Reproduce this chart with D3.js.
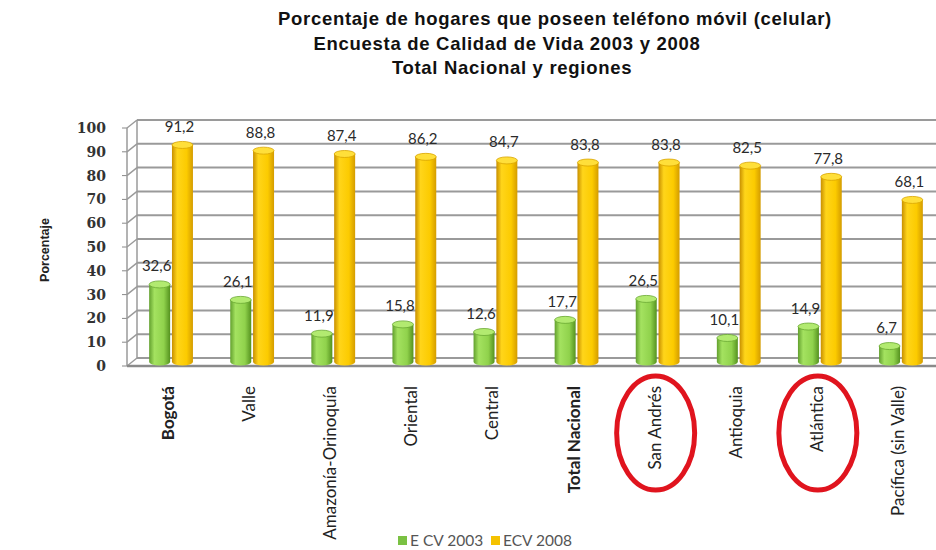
<!DOCTYPE html>
<html>
<head>
<meta charset="utf-8">
<script src="https://cdn.jsdelivr.net/npm/d3@7"></script>
<style>
	body { margin: 0; background: #fff; }
	svg { display: block; }
</style>
</head>
<body>
<svg id="chart" width="936" height="550"></svg>
<script>
const CATEGORIES = [
	'Bogotá',
	'Valle',
	'Amazonía-Orinoquía',
	'Oriental',
	'Central',
	'Total Nacional',
	'San Andrés',
	'Antioquia',
	'Atlántica',
	'Pacífica (sin Valle)'
];
const BOLD_CATS = ['Bogotá', 'Total Nacional'];
const CIRCLED = ['San Andrés', 'Atlántica'];
const SERIES = ['E CV 2003', 'ECV 2008'];
const ECV_2003 = [32.6, 26.1, 11.9, 15.8, 12.6, 17.7, 26.5, 10.1, 14.9, 6.7];
const ECV_2008 = [91.2, 88.8, 87.4, 86.2, 84.7, 83.8, 83.8, 82.5, 77.8, 68.1];
const Y_TICKS = [0, 10, 20, 30, 40, 50, 60, 70, 80, 90, 100];
const TITLE = [
	'Porcentaje de hogares que poseen teléfono móvil (celular)',
	'Encuesta de Calidad de Vida 2003 y 2008',
	'Total Nacional y regiones'
];

const W = 936;
const AXIS_X = 127;
const DEPTH = { dx: 10, dy: -8 };

const $svg = d3.select('#chart');

const y = d3.scaleLinear().domain([0, 100]).range([366, 128]);
const x = d3
	.scaleBand()
	.domain(CATEGORIES)
	.range([130.5, 941.5])
	.paddingInner(0.46)
	.paddingOuter(0.23);
const xs = d3
	.scaleBand()
	.domain(SERIES)
	.range([0, x.bandwidth()])
	.paddingInner(0.08);

// gradients for the cylinders
const $defs = $svg.append('defs');
const grads = [
	{ id: 'g2003', stops: ['#62a02e', '#a4e260', '#90d24c', '#55921f'] },
	{ id: 'g2008', stops: ['#c88f00', '#ffd51a', '#fccb00', '#d49c00'] }
];
grads.forEach(g => {
	const $g = $defs
		.append('linearGradient')
		.attr('id', g.id)
		.attr('x1', 0)
		.attr('x2', 1)
		.attr('y1', 0)
		.attr('y2', 0);
	[0, 0.25, 0.7, 1].forEach((o, i) => {
		$g.append('stop').attr('offset', o).attr('stop-color', g.stops[i]);
	});
});
const CAP = ['#b2ea70', '#ffdf3a'];
const LEGEND_COL = ['#7ac143', '#f5c200'];

// title
TITLE.forEach((t, i) => {
	$svg
		.append('text')
		.attr('x', [555, 507, 512][i])
		.attr('y', 25 + i * 24.5)
		.attr('text-anchor', 'middle')
		.attr('font-family', 'Liberation Sans, Arial, sans-serif')
		.attr('font-weight', 'bold')
		.attr('font-size', 18.5)
		.attr('letter-spacing', 0.7)
		.attr('fill', '#111')
		.text(t);
});

// back wall gridlines + left wall slants
const $grid = $svg.append('g');
Y_TICKS.forEach(v => {
	$grid
		.append('line')
		.attr('x1', AXIS_X + DEPTH.dx)
		.attr('x2', W)
		.attr('y1', y(v) + DEPTH.dy)
		.attr('y2', y(v) + DEPTH.dy)
		.attr('stroke', '#9a9a9a')
		.attr('stroke-width', 2);
	$grid
		.append('line')
		.attr('x1', AXIS_X)
		.attr('y1', y(v))
		.attr('x2', AXIS_X + DEPTH.dx)
		.attr('y2', y(v) + DEPTH.dy)
		.attr('stroke', '#9a9a9a')
		.attr('stroke-width', 1.5);
	$grid
		.append('line')
		.attr('x1', AXIS_X - 5)
		.attr('x2', AXIS_X)
		.attr('y1', y(v))
		.attr('y2', y(v))
		.attr('stroke', '#888')
		.attr('stroke-width', 1);
});
$grid
	.append('line')
	.attr('x1', AXIS_X)
	.attr('x2', AXIS_X)
	.attr('y1', y(0))
	.attr('y2', y(100))
	.attr('stroke', '#9a9a9a')
	.attr('stroke-width', 1.5);
$grid
	.append('line')
	.attr('x1', AXIS_X + DEPTH.dx)
	.attr('x2', AXIS_X + DEPTH.dx)
	.attr('y1', y(0) + DEPTH.dy)
	.attr('y2', y(100) + DEPTH.dy)
	.attr('stroke', '#9a9a9a')
	.attr('stroke-width', 1.5);
// floor front edge
$grid
	.append('line')
	.attr('x1', AXIS_X)
	.attr('x2', W)
	.attr('y1', y(0))
	.attr('y2', y(0))
	.attr('stroke', '#8a8a8a')
	.attr('stroke-width', 2.5);

// y tick labels
$svg
	.append('g')
	.selectAll('text')
	.data(Y_TICKS)
	.join('text')
	.attr('x', 106)
	.attr('y', d => y(d))
	.attr('dy', '0.35em')
	.attr('text-anchor', 'end')
	.attr('font-family', 'DejaVu Serif, serif')
	.attr('font-size', 14)
	.attr('font-weight', 'bold')
	.attr('fill', '#333')
	.text(d => d);

// y axis title
$svg
	.append('text')
	.attr('transform', 'translate(45,250) rotate(-90)')
	.attr('dy', '0.35em')
	.attr('text-anchor', 'middle')
	.attr('font-family', 'Liberation Sans, Arial, sans-serif')
	.attr('font-weight', 'bold')
	.attr('font-size', 12.5)
	.attr('fill', '#222')
	.text('Porcentaje');

// bars
const rows = CATEGORIES.map((c, i) => ({
	cat: c,
	vals: [
		{ s: SERIES[0], v: ECV_2003[i], k: 0 },
		{ s: SERIES[1], v: ECV_2008[i], k: 1 }
	]
}));
const BASE = -4; // bars stand in the middle of the floor depth
const CAP_RY = 3.5;

const $cat = $svg
	.append('g')
	.selectAll('g')
	.data(rows)
	.join('g')
	.attr('transform', d => `translate(${x(d.cat)},0)`);

const $bar = $cat
	.selectAll('g')
	.data(d => d.vals)
	.join('g');

$bar
	.append('path')
	.attr('d', d => {
		const x0 = xs(d.s);
		const bw = xs.bandwidth();
		const y0 = y(0) + BASE;
		const y1 = y(d.v) + BASE;
		return `M${x0},${y1}L${x0},${y0}A${bw / 2},${CAP_RY} 0 0 0 ${x0 + bw},${y0}L${x0 + bw},${y1}Z`;
	})
	.attr('fill', d => `url(#g${d.k ? '2008' : '2003'})`);

$bar
	.append('ellipse')
	.attr('cx', d => xs(d.s) + xs.bandwidth() / 2)
	.attr('cy', d => y(d.v) + BASE)
	.attr('rx', xs.bandwidth() / 2)
	.attr('ry', CAP_RY)
	.attr('fill', d => CAP[d.k])
	.attr('stroke', d => (d.k ? '#d9a400' : '#6aa832'))
	.attr('stroke-width', 0.8);

$bar
	.append('text')
	.attr('x', d => xs(d.s) + xs.bandwidth() / 2 - 3)
	.attr('y', d => y(d.v) + BASE - 13)
	.attr('text-anchor', 'middle')
	.attr('font-family', 'Lato, sans-serif')
	.attr('font-size', 15)
	.attr('fill', '#2a2a2a')
	.text(d => d3.format('.1f')(d.v).replace('.', ','));

// category labels
$svg
	.append('g')
	.selectAll('text')
	.data(CATEGORIES)
	.join('text')
	.attr('transform', d => `translate(${x(d) + x.bandwidth() / 2 - 3},386) rotate(-90)`)
	.attr('dy', '0.35em')
	.attr('text-anchor', 'end')
	.attr('font-family', 'Lato, sans-serif')
	.attr('font-size', 17)
	.attr('font-weight', d => (BOLD_CATS.includes(d) ? 'bold' : 'normal'))
	.attr('fill', '#222')
	.text(d => d);

// red hand-drawn circles
$svg
	.append('g')
	.selectAll('ellipse')
	.data(CIRCLED)
	.join('ellipse')
	.attr('cx', d => x(d) + x.bandwidth() / 2 - 2)
	.attr('cy', 433)
	.attr('rx', 39)
	.attr('ry', 57)
	.attr('fill', 'none')
	.attr('stroke', '#e0141e')
	.attr('stroke-width', 5);

// legend
const $leg = $svg
	.append('g')
	.selectAll('g')
	.data(SERIES)
	.join('g')
	.attr('transform', (d, i) => `translate(${[398, 491][i]},541)`);
$leg
	.append('rect')
	.attr('x', 0)
	.attr('y', -5)
	.attr('width', 9)
	.attr('height', 9)
	.attr('fill', (d, i) => LEGEND_COL[i]);
$leg
	.append('text')
	.attr('x', 12)
	.attr('y', 0)
	.attr('dy', '0.35em')
	.attr('font-family', 'Lato, sans-serif')
	.attr('font-size', 15.5)
	.attr('fill', '#555')
	.text(d => d);
</script>
</body>
</html>
